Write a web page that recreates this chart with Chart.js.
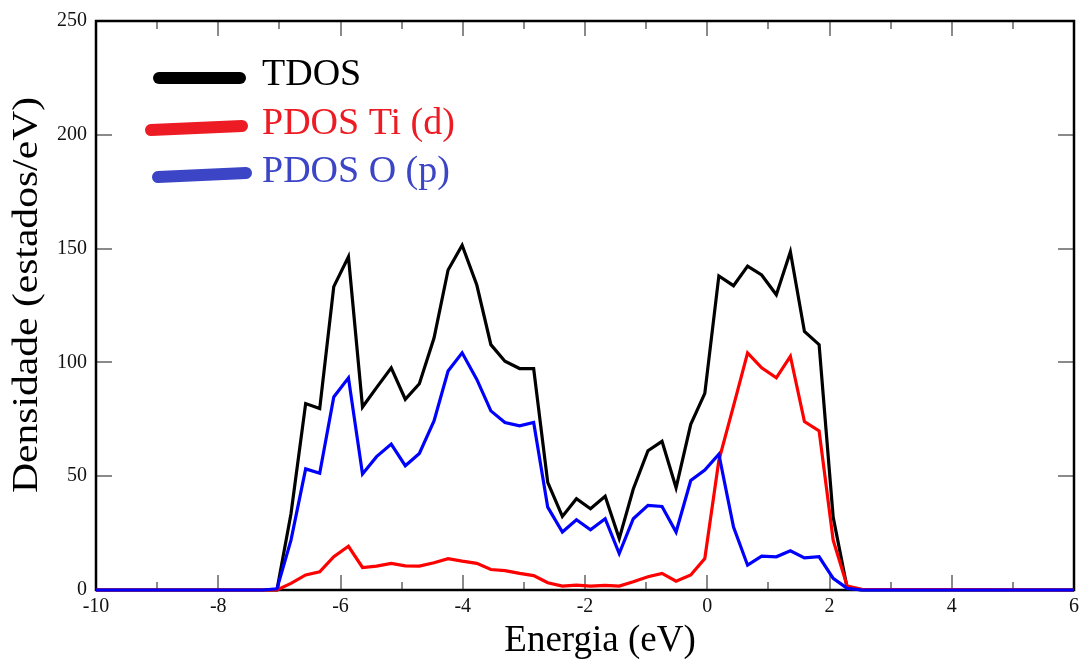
<!DOCTYPE html>
<html>
<head>
<meta charset="utf-8">
<script src="https://cdn.jsdelivr.net/npm/chart.js@4/dist/chart.umd.min.js"></script>
<style>
html,body{margin:0;padding:0;background:#fff;}
canvas{display:block;}
</style>
</head>
<body>
<canvas id="c" width="1084" height="659"></canvas>
<script>
// Energy grid (eV)
const energy = [-10, -7.27,
  -7.04, -6.81, -6.57, -6.34, -6.11, -5.87, -5.64, -5.41, -5.17, -4.94,
  -4.71, -4.47, -4.24, -4.01, -3.77, -3.54, -3.31, -3.07, -2.84, -2.61,
  -2.37, -2.14, -1.91, -1.67, -1.44, -1.21, -0.97, -0.74, -0.51, -0.27,
  -0.04, 0.19, 0.43, 0.66, 0.89, 1.13, 1.36, 1.59, 1.83, 2.06, 2.29,
  2.53, 6];
const tdos = [0, 0,
  0, 33.5, 81.9, 79.7, 133.3, 146.4, 80.4, 88.9, 97.6, 83.8,
  90.6, 110.7, 140.6, 151.5, 134, 107.8, 100.5, 97.3, 97.3, 47.3,
  32.3, 40.1, 35.7, 41.2, 22.6, 44.4, 61.2, 65.3, 44.9, 72.8,
  86.4, 138, 133.7, 142.3, 138.4, 129.7, 148.6, 113.6, 107.8, 32, 0.7,
  0, 0];
const pdosTi = [0, 0,
  0, 2.9, 6.6, 8, 14.6, 19.2, 9.9, 10.5, 11.7, 10.6,
  10.5, 12, 13.8, 12.7, 11.7, 9, 8.5, 7.3, 6.3, 3.2,
  1.7, 2.1, 1.7, 2, 1.7, 3.6, 5.8, 7.3, 3.9, 6.6,
  13.8, 57, 80.9, 104.2, 97.6, 93.2, 102.7, 74, 69.9, 21.9, 1.7,
  0.3, 0];
const pdosO = [0, 0,
  0.5, 21.9, 53.2, 51.3, 84.8, 93.2, 51, 58.6, 64.1, 54.6,
  60, 74.3, 96.2, 104.2, 92.5, 78.7, 73.6, 72.1, 73.6, 36.4,
  25.5, 30.9, 26.5, 31.3, 16, 31.3, 37.2, 36.7, 25.5, 48.1,
  52.7, 59.7, 27.7, 10.9, 14.9, 14.6, 17.2, 14.1, 14.6, 5.1, 0.7,
  0, 0];
const seriesNames = ["TDOS", "PDOS Ti (d)", "PDOS O (p)"];
const xTitle = "Energia (eV)";
const yTitle = "Densidade (estados/eV)";

const toPts = (ys) => energy.map((x, i) => ({x: x, y: ys[i]}));
const SERIF = "'Liberation Serif','Times New Roman',serif";

const decor = {
  id: 'decor',
  beforeDatasetsDraw(chart) {
    const {ctx, chartArea: a, scales: {x, y}} = chart;
    ctx.save();
    ctx.strokeStyle = '#8a8a8a';
    ctx.lineWidth = 2;
    for (let v = -9; v <= 5; v++) {
      const px = Math.round(x.getPixelForValue(v));
      const len = (v % 2 === 0) ? 15 : 8;
      ctx.beginPath();
      ctx.moveTo(px, a.bottom); ctx.lineTo(px, a.bottom - len);
      ctx.moveTo(px, a.top); ctx.lineTo(px, a.top + len);
      ctx.stroke();
    }
    for (let v = 50; v <= 200; v += 50) {
      const py = Math.round(y.getPixelForValue(v));
      ctx.beginPath();
      ctx.moveTo(a.left, py); ctx.lineTo(a.left + 16, py);
      ctx.moveTo(a.right, py); ctx.lineTo(a.right - 16, py);
      ctx.stroke();
    }
    ctx.strokeStyle = '#000';
    ctx.lineWidth = 2.5;
    ctx.strokeRect(a.left, a.top, a.right - a.left, a.bottom - a.top);
    ctx.restore();
  },
  afterDraw(chart) {
    const ctx = chart.ctx;
    ctx.save();
    // legend
    const items = [
      {c: '#000000', tc: '#000000', x1: 159, y1: 78, x2: 240, y2: 78, base: 85, label: seriesNames[0]},
      {c: '#ed1c24', tc: '#ed1c24', x1: 151, y1: 130, x2: 242, y2: 126, base: 134, label: seriesNames[1]},
      {c: '#3b45c6', tc: '#3b45c6', x1: 158, y1: 177, x2: 246, y2: 173, base: 182, label: seriesNames[2]}
    ];
    ctx.lineCap = 'round';
    ctx.lineWidth = 12;
    ctx.font = '38px ' + SERIF;
    ctx.textAlign = 'left';
    ctx.textBaseline = 'alphabetic';
    for (const it of items) {
      ctx.strokeStyle = it.c;
      ctx.beginPath(); ctx.moveTo(it.x1, it.y1); ctx.lineTo(it.x2, it.y2); ctx.stroke();
      ctx.fillStyle = it.tc;
      ctx.fillText(it.label, 262, it.base);
    }
    // x title
    ctx.fillStyle = '#000';
    ctx.font = '37px ' + SERIF;
    ctx.textAlign = 'center';
    ctx.fillText(xTitle, 600, 651);
    // y title
    ctx.font = '36px ' + SERIF;
    const w = ctx.measureText(yTitle).width;
    const target = 396;
    ctx.translate(37, 295);
    ctx.rotate(-Math.PI / 2);
    ctx.scale(target / w, 1);
    ctx.textAlign = 'center';
    ctx.fillText(yTitle, 0, 0);
    ctx.restore();
  }
};

new Chart(document.getElementById('c'), {
  type: 'scatter',
  data: {
    datasets: [
      {label: seriesNames[0], data: toPts(tdos), borderColor: '#000000', order: 3},
      {label: seriesNames[1], data: toPts(pdosTi), borderColor: '#ff0000', order: 2},
      {label: seriesNames[2], data: toPts(pdosO), borderColor: '#0000ff', order: 1}
    ].map(d => Object.assign(d, {showLine: true, pointRadius: 0, borderWidth: 3.2, tension: 0, clip: 6, backgroundColor: d.borderColor}))
  },
  options: {
    responsive: false,
    devicePixelRatio: 1,
    animation: false,
    layout: {padding: {left: 0, right: 7, top: 19, bottom: 0}},
    plugins: {legend: {display: false}, tooltip: {enabled: false}},
    scales: {
      x: {
        type: 'linear', min: -10, max: 6,
        ticks: {stepSize: 2, color: '#111', font: {family: SERIF, size: 20}, padding: 5, maxRotation: 0, autoSkip: false},
        grid: {display: false, drawTicks: false},
        border: {display: false},
        afterFit(s) { s.height = 69; }
      },
      y: {
        type: 'linear', min: 0, max: 250,
        ticks: {stepSize: 50, color: '#111', font: {family: SERIF, size: 20}, padding: 9},
        grid: {display: false, drawTicks: false},
        border: {display: false},
        afterFit(s) { s.width = 96; }
      }
    }
  },
  plugins: [decor]
});
</script>
</body>
</html>
